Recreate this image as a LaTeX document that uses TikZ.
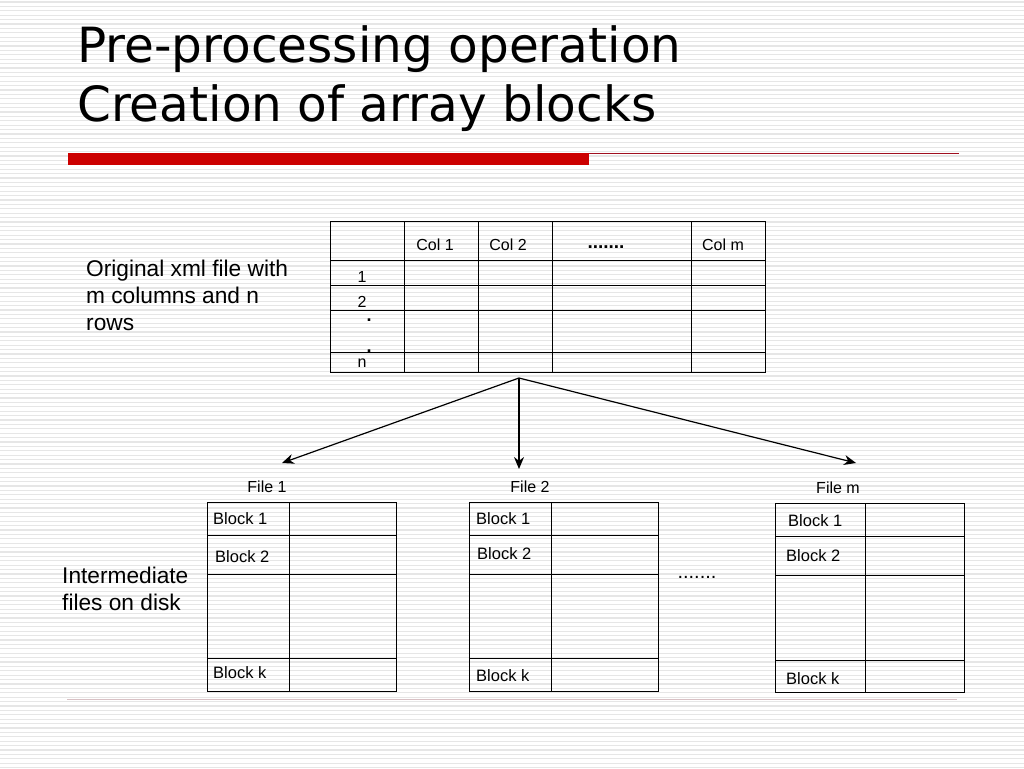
\documentclass[tikz,border=0pt]{standalone}
\usepackage{fontspec}
\setmainfont{Liberation Sans}
\newfontfamily\titlefont{DejaVu Sans}
\usetikzlibrary{arrows.meta}
\definecolor{stripe}{HTML}{E6E6E6}
\definecolor{barred}{HTML}{CC0000}
\definecolor{thinred}{HTML}{A01020}
\definecolor{faintline}{HTML}{D8C0C4}
\tikzset{
  grid/.style={draw=black, line width=0.9pt},
  lbl/.style={inner sep=0pt, font=\fontsize{16}{18}\selectfont},
  blk/.style={inner sep=0pt, font=\fontsize{16.5}{18}\selectfont},
  big/.style={inner sep=0pt, font=\fontsize{22.7}{26}\selectfont},
  ttl/.style={inner sep=0pt, font=\titlefont\fontsize{48.5}{56}\selectfont},
  arr/.style={line width=1.2pt, -{Stealth[length=12pt,width=10pt]}},
  rowdot/.style={inner sep=0pt, font=\fontsize{18}{20}\selectfont\bfseries},
}
\begin{document}
\begin{tikzpicture}[x=1pt,y=-1pt]
\useasboundingbox (0,0) rectangle (1024,768);
\fill[white] (0,0) rectangle (1024,768);
\foreach \k in {0,...,175} {
  \draw[stripe, line width=1.3pt] (0,{2+4.4*\k}) -- (1024,{2+4.4*\k});
}
% title
\node[ttl, anchor=base west] (t1) at (77,63) {Pre-processing operation};
\node[ttl, anchor=base west] (t2) at (77,121) {Creation of array blocks};
% red bar
\fill[barred] (68,153) rectangle (589,165);
\draw[thinred, line width=1.1pt] (589,153.3) -- (959,153.3);
\draw[faintline, line width=0.9pt] (67,699) -- (957,699);

% original table
\draw[grid] (330,221) rectangle (765,372);
\foreach \y in {260.5,285.5,310,352.5} \draw[grid] (330,\y) -- (765,\y);
\foreach \x in {404,478,552,691} \draw[grid] (\x,221) -- (\x,372);
\node[lbl, anchor=base] (c1) at (435,250) {Col 1};
\node[lbl, anchor=base] (c2) at (508,250) {Col 2};
\node[lbl, anchor=base, font=\fontsize{19}{20}\selectfont\bfseries] (cd) at (606,248) {.......};
\node[lbl, anchor=base] (cm) at (723,250) {Col m};
\node[lbl, anchor=base] (r1) at (362,282) {1};
\node[lbl, anchor=base] (r2) at (362,307) {2};
\node[rowdot, anchor=base] (rd1) at (369,321) {.};
\node[rowdot, anchor=base] (rd2) at (369,352) {.};
\node[lbl, anchor=base] (rn) at (362,367) {n};
\node[big, anchor=base west] (o1) at (86,276) {Original xml file with};
\node[big, anchor=base west] (o2) at (86,303) {m columns and n};
\node[big, anchor=base west] (o3) at (86,330) {rows};

% arrows
\coordinate (src) at (519,378);
\coordinate (d1) at (282,463);
\coordinate (d2) at (519,469);
\coordinate (d3) at (856,463);
\draw[arr] (src) -- (d1);
\draw[arr] (src) -- (d2);
\draw[arr] (src) -- (d3);

% file 1
\draw[grid] (207,502.5) rectangle (396,691);
\foreach \y in {535,574,658.5} \draw[grid] (207,\y) -- (396,\y);
\draw[grid] (289.5,502.5) -- (289.5,691);
\node[lbl, anchor=base] (f1) at (267,492) {File 1};
\node[blk, anchor=base west] (f1b1) at (213,524) {Block 1};
\node[blk, anchor=base west] (f1b2) at (215,562) {Block 2};
\node[blk, anchor=base west] (f1bk) at (213,678) {Block k};

% file 2
\draw[grid] (469.5,502.5) rectangle (658.5,691);
\foreach \y in {535,574,658.5} \draw[grid] (469.5,\y) -- (658.5,\y);
\draw[grid] (551.5,502.5) -- (551.5,691);
\node[lbl, anchor=base] (f2) at (530,492) {File 2};
\node[blk, anchor=base west] (f2b1) at (476,524) {Block 1};
\node[blk, anchor=base west] (f2b2) at (477,559) {Block 2};
\node[blk, anchor=base west] (f2bk) at (476,681) {Block k};
\node[lbl, anchor=base, font=\fontsize{20}{22}\selectfont] (fdots) at (697,578) {.......};

% file m
\draw[grid] (775.5,503.5) rectangle (964.5,692);
\foreach \y in {536,575.5,660.5} \draw[grid] (775.5,\y) -- (964.5,\y);
\draw[grid] (865.5,503.5) -- (865.5,692);
\node[lbl, anchor=base] (fm) at (838,493) {File m};
\node[blk, anchor=base west] (fmb1) at (788,526) {Block 1};
\node[blk, anchor=base west] (fmb2) at (786,561) {Block 2};
\node[blk, anchor=base west] (fmbk) at (786,684) {Block k};

\node[big, anchor=base west] (i1) at (62,583) {Intermediate};
\node[big, anchor=base west] (i2) at (62,610) {files on disk};
\end{tikzpicture}
\end{document}
